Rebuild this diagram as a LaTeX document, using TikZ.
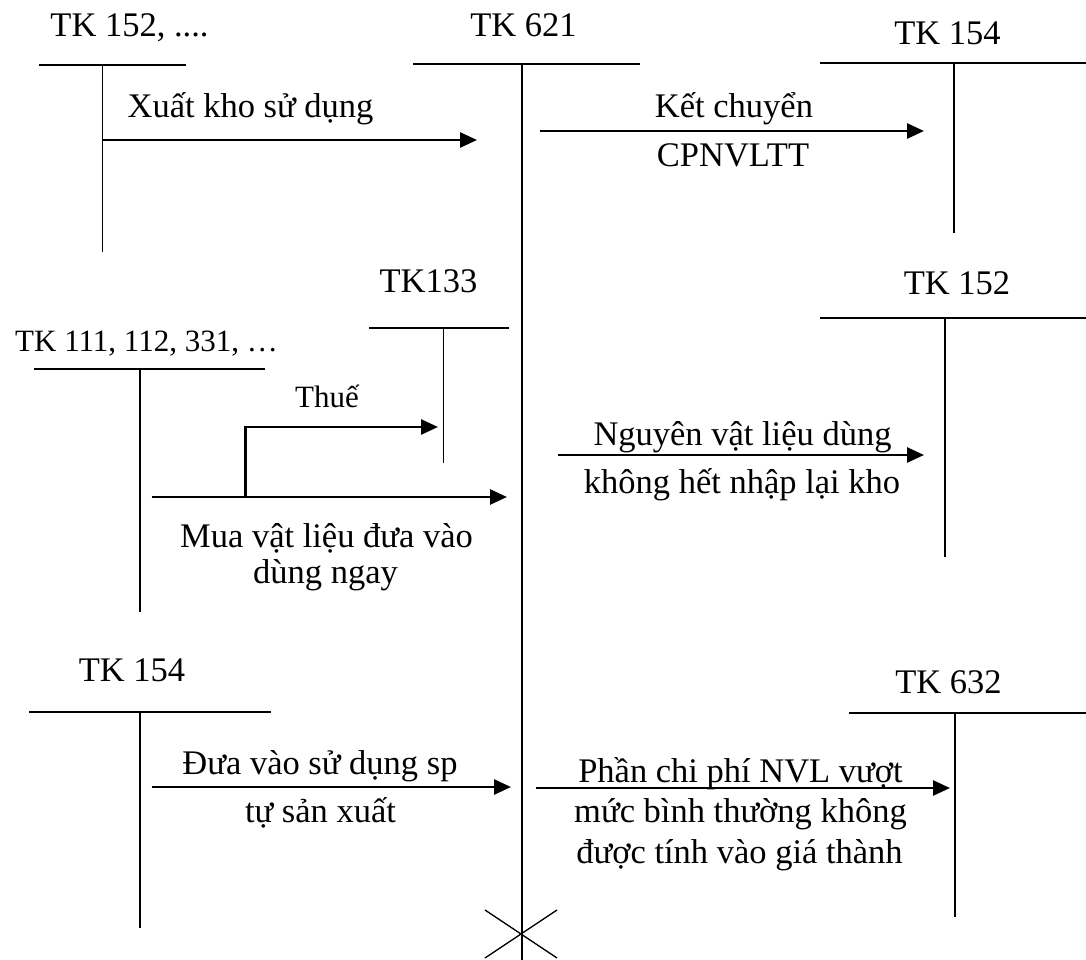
\documentclass[tikz,border=0pt]{standalone}
\usepackage{fontspec}
\setmainfont{Liberation Serif}
\usetikzlibrary{arrows.meta}
\begin{document}
\begin{tikzpicture}[x=1pt,y=-1pt,
  tacc/.style={line width=1.7pt},
  flow/.style={line width=2.8pt,-{Triangle[length=17pt,width=15pt]}},
  lbl/.style={anchor=base,inner sep=0pt,font=\fontsize{34.5}{42}\selectfont},
  slbl/.style={anchor=base,inner sep=0pt,font=\fontsize{31}{38}\selectfont}]
\useasboundingbox (0,0) rectangle (1086,960);
% T-accounts
\coordinate (a1l) at (39,65); \coordinate (a1r) at (186,65);
\coordinate (a1t) at (102.6,65); \coordinate (a1b) at (102.6,252);
\draw[tacc] (a1l) -- (a1r); \draw[tacc] (a1t) -- (a1b);
\coordinate (a2l) at (413,64); \coordinate (a2r) at (640,64);
\coordinate (a2t) at (522,64); \coordinate (a2b) at (522,960);
\draw[tacc] (a2l) -- (a2r); \draw[tacc] (a2t) -- (a2b);
\coordinate (a3l) at (820,63); \coordinate (a3r) at (1086,63);
\coordinate (a3t) at (954,63); \coordinate (a3b) at (954,233);
\draw[tacc] (a3l) -- (a3r); \draw[tacc] (a3t) -- (a3b);
\coordinate (a4l) at (369,328); \coordinate (a4r) at (509,328);
\coordinate (a4t) at (443.5,328); \coordinate (a4b) at (443.5,463);
\draw[tacc] (a4l) -- (a4r); \draw[tacc] (a4t) -- (a4b);
\coordinate (a5l) at (34,369); \coordinate (a5r) at (265,369);
\coordinate (a5t) at (140,369); \coordinate (a5b) at (140,612);
\draw[tacc] (a5l) -- (a5r); \draw[tacc] (a5t) -- (a5b);
\coordinate (a6l) at (820,318); \coordinate (a6r) at (1086,318);
\coordinate (a6t) at (945,318); \coordinate (a6b) at (945,557);
\draw[tacc] (a6l) -- (a6r); \draw[tacc] (a6t) -- (a6b);
\coordinate (a7l) at (29,712); \coordinate (a7r) at (271,712);
\coordinate (a7t) at (140,712); \coordinate (a7b) at (140,928);
\draw[tacc] (a7l) -- (a7r); \draw[tacc] (a7t) -- (a7b);
\coordinate (a8l) at (849,713); \coordinate (a8r) at (1086,713);
\coordinate (a8t) at (955,713); \coordinate (a8b) at (955,917);
\draw[tacc] (a8l) -- (a8r); \draw[tacc] (a8t) -- (a8b);
% closing cross
\coordinate (x1) at (485,910); \coordinate (x2) at (557,958);
\coordinate (x3) at (557,910); \coordinate (x4) at (485,958);
\draw[line width=1.3pt] (x1) -- (x2) (x3) -- (x4);
% account titles
\node[lbl] (t1) at (129.5,37) {TK 152, ....};
\node[lbl] (t2) at (523.5,37) {TK 621};
\node[lbl] (t3) at (947.5,45) {TK 154};
\node[lbl] (t4) at (428.5,292) {TK133};
\node[slbl] (t5) at (146.5,351) {TK 111, 112, 331, …};
\node[lbl] (t6) at (957,294) {TK 152};
\node[lbl] (t7) at (132,681) {TK 154};
\node[lbl] (t8) at (948.5,693) {TK 632};
% flows
\coordinate (f1s) at (102.6,140); \coordinate (f1e) at (477,140);
\draw[flow] (f1s) -- (f1e);
\node[lbl] (l1) at (250.5,118) {Xuất kho sử dụng};
\coordinate (f2s) at (540,131); \coordinate (f2e) at (924,131);
\draw[flow] (f2s) -- (f2e);
\node[lbl] (l2a) at (734,118) {Kết chuyển};
\node[lbl] (l2b) at (733,167) {CPNVLTT};
\coordinate (f3s) at (151.5,497); \coordinate (f3e) at (507,497);
\draw[flow] (f3s) -- (f3e);
\coordinate (f4s) at (245.5,497); \coordinate (f4e) at (438,427);
\draw[flow] (f4s) |- (f4e);
\node[slbl] (l4) at (327,407) {Thuế};
\node[lbl] (l3a) at (326.5,547) {Mua vật liệu đưa vào};
\node[lbl] (l3b) at (325.5,583) {dùng ngay};
\coordinate (f5s) at (558,455); \coordinate (f5e) at (924,455);
\draw[flow] (f5s) -- (f5e);
\node[lbl] (l5a) at (742.5,445) {Nguyên vật liệu dùng};
\node[lbl] (l5b) at (742,493) {không hết nhập lại kho};
\coordinate (f6s) at (151.5,787); \coordinate (f6e) at (511,787);
\draw[flow] (f6s) -- (f6e);
\node[lbl] (l6a) at (320,774) {Đưa vào sử dụng sp};
\node[lbl] (l6b) at (320.5,822) {tự sản xuất};
\coordinate (f7s) at (535.5,788); \coordinate (f7e) at (950,788);
\draw[flow] (f7s) -- (f7e);
\node[lbl] (l7a) at (740.5,782) {Phần chi phí NVL vượt};
\node[lbl] (l7b) at (740.5,822) {mức bình thường không};
\node[lbl] (l7c) at (739.5,863) {được tính vào giá thành};
\end{tikzpicture}
\end{document}
